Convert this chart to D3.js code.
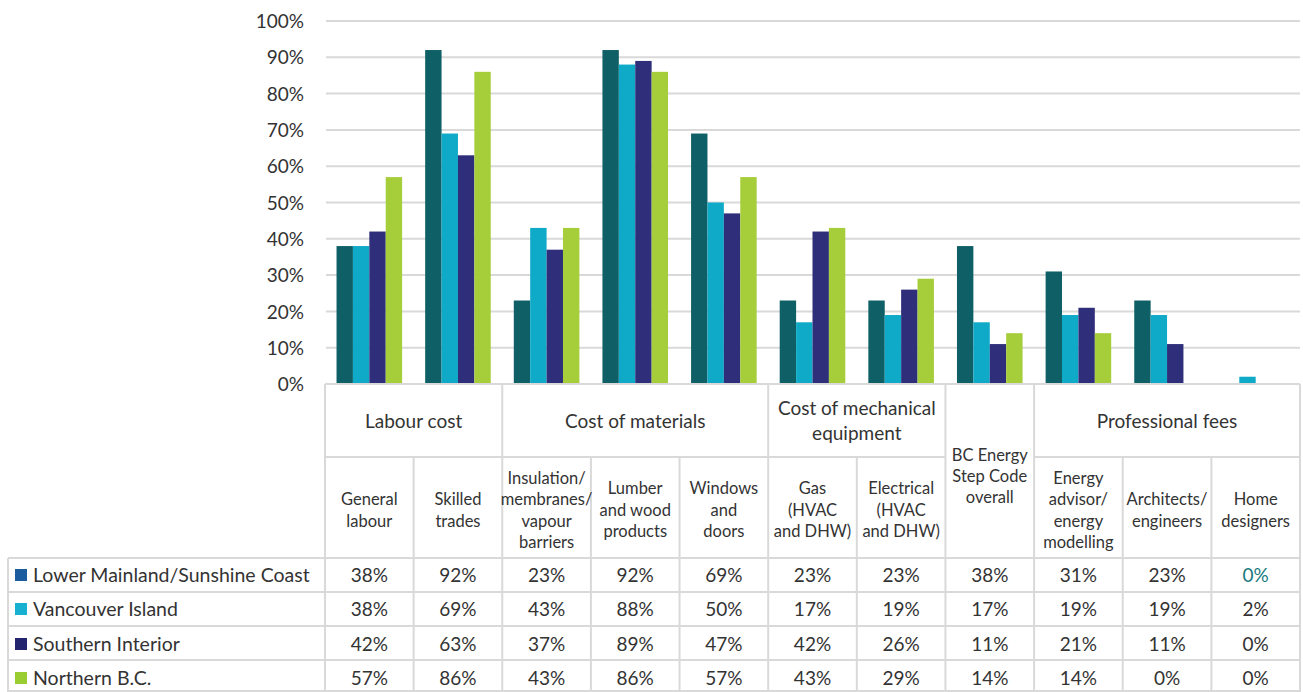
<!DOCTYPE html>
<html><head><meta charset="utf-8">
<script src="https://cdn.jsdelivr.net/npm/d3@7"></script>
<style>
body{margin:0;background:#fff;}
svg{display:block;font-family:Lato,"Open Sans",sans-serif;}
</style></head>
<body><svg id="c" width="1303" height="692"></svg>
<script>
const categories = ["General labour","Skilled trades","Insulation/ membranes/ vapour barriers","Lumber and wood products","Windows and doors","Gas (HVAC and DHW)","Electrical (HVAC and DHW)","BC Energy Step Code overall","Energy advisor/ energy modelling","Architects/ engineers","Home designers"];
const categoryLines = [["General","labour"],["Skilled","trades"],["Insulation/","membranes/","vapour","barriers"],["Lumber","and wood","products"],["Windows","and","doors"],["Gas","(HVAC","and DHW)"],["Electrical","(HVAC","and DHW)"],["BC Energy","Step Code","overall"],["Energy","advisor/","energy","modelling"],["Architects/","engineers"],["Home","designers"]];
const groups = [
  {lines:["Labour cost"], from:0, to:1},
  {lines:["Cost of materials"], from:2, to:4},
  {lines:["Cost of mechanical","equipment"], from:5, to:6},
  {lines:["Professional fees"], from:8, to:10}
];
const seriesNames = ["Lower Mainland/Sunshine Coast","Vancouver Island","Southern Interior","Northern B.C."];
const lowerMainland = [38,92,23,92,69,23,23,38,31,23,0];
const vancouverIsland = [38,69,43,88,50,17,19,17,19,19,2];
const southernInterior = [42,63,37,89,47,42,26,11,21,11,0];
const northernBC = [57,86,43,86,57,43,29,14,14,0,0];
const seriesValues = [lowerMainland,vancouverIsland,southernInterior,northernBC];
const barColors = ["#0f6066","#0eaac8","#2e2e7a","#a6cd3a"];
const legendColors = ["#1b5c9e","#17b0d0","#22246e","#9acd32"];
const yTicks = [0,10,20,30,40,50,60,70,80,90,100];

const svg = d3.select("#c");
const plotLeft = 325, plotRight = 1300, plotTop = 21, zeroY = 384;
const textColor = "#333333", gridColor = "#d9d9d9";

const x = d3.scaleBand().domain(d3.range(categories.length)).range([plotLeft,plotRight]).paddingInner(0.26).paddingOuter(0.13);
const xs = d3.scaleBand().domain(d3.range(seriesNames.length)).range([0,x.bandwidth()]);
const y = d3.scaleLinear().domain([0,100]).range([zeroY,plotTop]);
const step = x.step();
const colX = i => plotLeft + i*step;

svg.append("g").selectAll("line").data(yTicks.filter(d=>d>0)).join("line")
  .attr("x1",plotLeft+1).attr("x2",plotRight).attr("y1",d=>y(d)).attr("y2",d=>y(d))
  .attr("stroke",gridColor).attr("stroke-width",2);

const yAxis = d3.axisLeft(y).tickValues(yTicks).tickFormat(d=>d+"%").tickSize(0).tickPadding(0);
const ya = svg.append("g").attr("transform","translate(304,0)").call(yAxis);
ya.select(".domain").remove();
ya.selectAll("text").attr("font-size",19).attr("fill",textColor).attr("font-family","Lato, sans-serif").attr("dy","0.35em");

seriesValues.forEach((vals,s)=>{
  svg.append("g").selectAll("rect").data(vals).join("rect")
    .attr("x",(d,i)=>x(i)+xs(s)).attr("width",xs.bandwidth())
    .attr("y",d=>y(d)).attr("height",d=>zeroY-y(d)).attr("fill",barColors[s]);
});

const tb = svg.append("g");
const line = (x1,y1,x2,y2)=>tb.append("line").attr("x1",x1).attr("y1",y1).attr("x2",x2).attr("y2",y2).attr("stroke",gridColor).attr("stroke-width",2);
line(plotLeft,384,plotRight,384);
groups.forEach(g=>line(colX(g.from),457,colX(g.to+1),457));
[558,592,626,660].forEach(yy=>line(8,yy,plotRight,yy));
line(8,691,plotRight,691);
for(let i=0;i<=categories.length;i++){
  const xx = colX(i);
  const isGroupBorder = i===0||i===categories.length||groups.some(g=>g.from===i||g.to+1===i);
  line(xx, isGroupBorder?384:457, xx, 692);
}
line(8,558,8,692);

function multiText(g, cx, cy, lines, lh, size){
  const t = g.append("text").attr("text-anchor","middle").attr("font-size",size).attr("fill",textColor);
  const n = lines.length;
  lines.forEach((l,k)=>{
    t.append("tspan").attr("x",cx).attr("y",cy + (k-(n-1)/2)*lh).attr("dy","0.35em").text(l);
  });
}
groups.forEach(g=>{
  const cx = (colX(g.from)+colX(g.to+1))/2;
  multiText(tb,cx,421,g.lines,25,19);
});
categoryLines.forEach((ls,i)=>{
  const cx = colX(i)+step/2;
  if(i===7) multiText(tb,cx,476,ls,21,16.5);
  else multiText(tb,cx,510,ls,21.5,16.5);
});
const rowCenters = [575,609,644,678];
seriesValues.forEach((vals,s)=>{
  tb.append("rect").attr("x",15).attr("y",rowCenters[s]-6).attr("width",12).attr("height",12).attr("fill",legendColors[s]);
  tb.append("text").attr("x",33).attr("y",rowCenters[s]).attr("dy","0.35em").attr("font-size",19.5).attr("fill",textColor).text(seriesNames[s]);
  vals.forEach((v,i)=>{
    tb.append("text").attr("x",colX(i)+step/2).attr("y",rowCenters[s]).attr("dy","0.35em")
      .attr("text-anchor","middle").attr("font-size",19).attr("fill",(s===0&&i===10)?"#1a7a80":textColor).text(v+"%");
  });
});
</script></body></html>
